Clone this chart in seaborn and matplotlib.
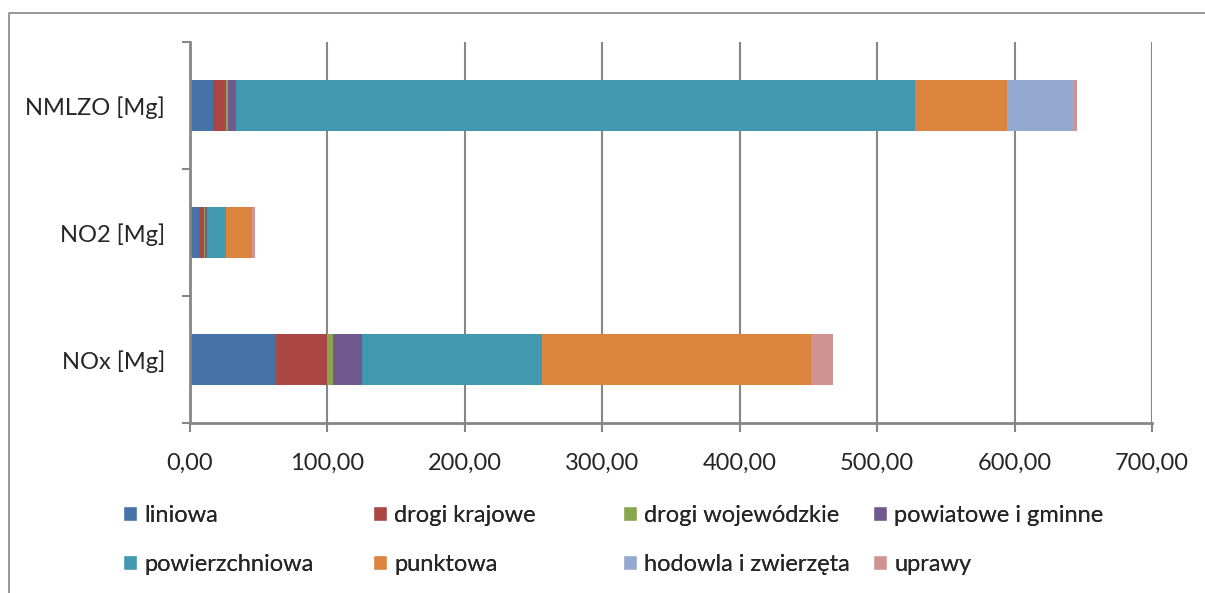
import seaborn as sns
import pandas as pd
import matplotlib.pyplot as plt
from matplotlib.lines import Line2D
from matplotlib.patches import Patch
from matplotlib.ticker import FuncFormatter, FixedLocator

# values (Mg)
categories = ["NMLZO [Mg]", "NO2 [Mg]", "NOx [Mg]"]
sources = ["liniowa", "drogi krajowe", "drogi wojewódzkie", "powiatowe i gminne",
           "powierzchniowa", "punktowa", "hodowla i zwierzęta", "uprawy"]
liniowa = [16.9, 6.5, 62.5]
drogi_krajowe = [9.2, 3.7, 37.0]
drogi_wojewodzkie = [1.3, 0.4, 4.6]
powiatowe_gminne = [6.0, 2.0, 20.8]
powierzchniowa = [493.8, 13.3, 130.9]
punktowa = [67.6, 19.3, 195.9]
hodowla = [48.6, 0.0, 0.0]
uprawy = [2.2, 1.8, 16.5]
colors = ["#4572A7", "#AA4643", "#89A54E", "#71588F",
          "#4198AF", "#DB843D", "#93A9CF", "#D19392"]

df = pd.DataFrame({
    "kategoria": categories,
    "liniowa": liniowa,
    "drogi krajowe": drogi_krajowe,
    "drogi wojewódzkie": drogi_wojewodzkie,
    "powiatowe i gminne": powiatowe_gminne,
    "powierzchniowa": powierzchniowa,
    "punktowa": punktowa,
    "hodowla i zwierzęta": hodowla,
    "uprawy": uprawy,
})
# running totals for the stacked bars
cum = df[sources].cumsum(axis=1)
cum["kategoria"] = df["kategoria"]

FS = 17
sns.set_style("white")
plt.rcParams["font.family"] = ["Lato", "DejaVu Sans"]
plt.rcParams["font.size"] = FS

fig = plt.figure(figsize=(12.05, 5.93), dpi=100)
ax = fig.add_axes([190 / 1205, 1 - 423 / 593, (1152 - 190) / 1205, (423 - 42) / 593])

# draw from the biggest total down so each segment shows
for src, col in reversed(list(zip(sources, colors))):
    sns.barplot(data=cum, x=src, y="kategoria", order=categories, color=col,
                width=0.4, orient="h", ax=ax, saturation=1, linewidth=0)

gray = "#868686"
ax.set_xlim(0, 700)
ax.set_ylim(2.5, -0.5)
ax.set_xticks(range(0, 701, 100))
ax.xaxis.set_major_formatter(FuncFormatter(lambda v, p: f"{v:.2f}".replace(".", ",")))
ax.set_xlabel("")
ax.set_ylabel("")
ax.grid(axis="x", color=gray, lw=1.5)
ax.set_axisbelow(True)
for s in ["top", "right"]:
    ax.spines[s].set_visible(False)
for s in ["left", "bottom"]:
    ax.spines[s].set_color(gray)
    ax.spines[s].set_linewidth(2)
ax.tick_params(axis="x", direction="out", length=6.5, width=1.5, color=gray,
               pad=15, labelsize=FS, bottom=True)
ax.tick_params(axis="y", which="major", length=0, pad=18, labelsize=FS)
ax.yaxis.set_minor_locator(FixedLocator([-0.5, 0.5, 1.5, 2.5]))
ax.tick_params(axis="y", which="minor", direction="out", length=6, width=1.5,
               color=gray, left=True)

# legend: four evenly spaced columns, like the original
for i in range(4):
    hs = [Patch(facecolor=colors[i]), Patch(facecolor=colors[i + 4])]
    leg = fig.legend(hs, [sources[i], sources[i + 4]], loc="center left",
                     bbox_to_anchor=((123 + 250 * i) / 1205, 1 - 540 / 593),
                     frameon=False, borderpad=0, borderaxespad=0,
                     handlelength=0.6, handleheight=0.6, handletextpad=0.3,
                     labelspacing=1.18, fontsize=FS)
    fig.add_artist(leg)

# chart area border (top and left edges only visible)
fig.add_artist(Line2D([9 / 1205, 9 / 1205, 1], [0, 1 - 13 / 593, 1 - 13 / 593],
                      transform=fig.transFigure, color=gray, lw=1.2))

fig.savefig("out.png", dpi=100)
